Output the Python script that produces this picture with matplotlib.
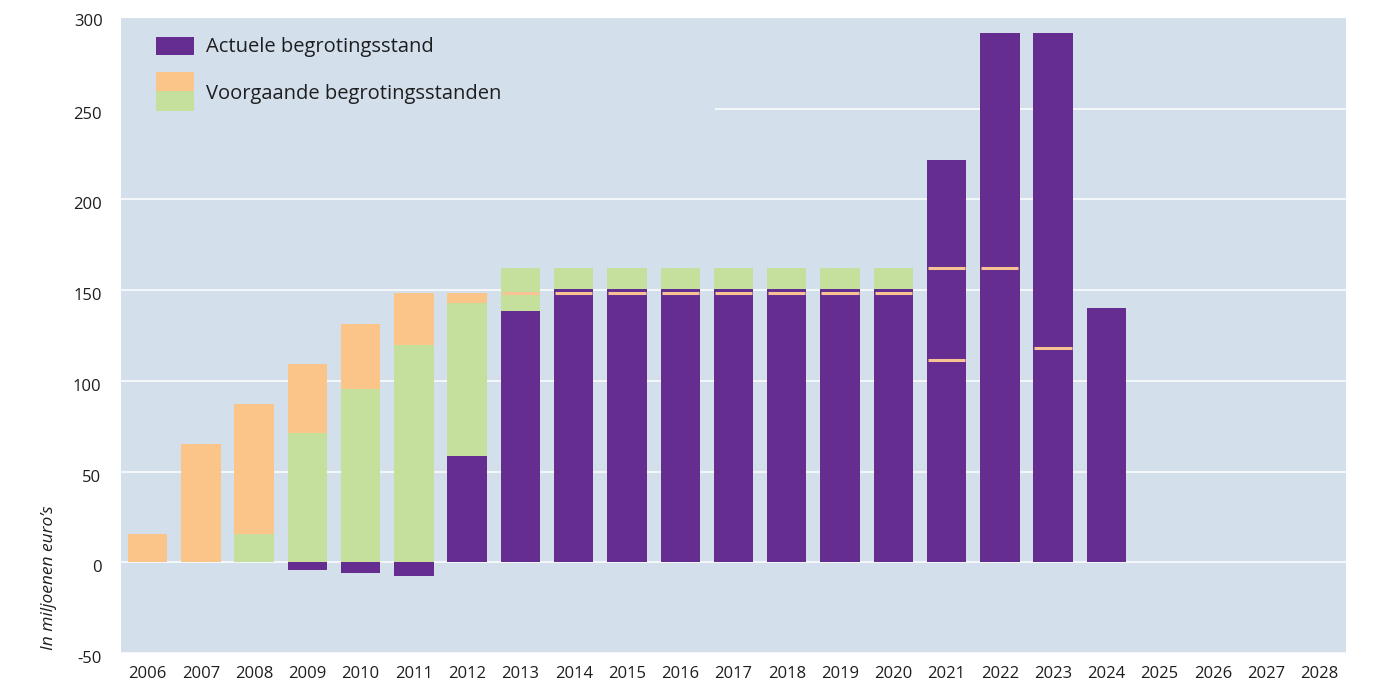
import matplotlib
matplotlib.use("Agg")
import matplotlib.pyplot as plt
import matplotlib.transforms as mtransforms
from matplotlib.patches import Rectangle
import numpy as np

plt.rcParams['font.family'] = ['Open Sans', 'DejaVu Sans']

# ---------------- data ----------------
years = [str(y) for y in range(2006, 2029)]
# current budget level (purple)
actual = [0, 0, 0, -4, -6, -7.7, 58.5, 138.5, 150.5, 150.5, 150.5, 150.5, 150.5,
          150.5, 150.5, 222, 292, 292, 140.2, 0, 0, 0, 0]
# previous budget levels (cumulative tops), green then orange
green_top = [np.nan, np.nan, 15.5, 71.2, 95.5, 119.8, 143, 162.3, 162.3, 162.3,
             162.3, 162.3, 162.3, 162.3, 162.3, np.nan, np.nan, np.nan, np.nan,
             np.nan, np.nan, np.nan, np.nan]
orange_top = [15.5, 65, 87.2, 109.3, 131.3, 148.5, 148.5, np.nan, np.nan, np.nan,
              np.nan, np.nan, np.nan, np.nan, np.nan, np.nan, np.nan, np.nan,
              np.nan, np.nan, np.nan, np.nan, np.nan]
# earlier budget levels shown as thin marker lines
line_years = ['2013', '2014', '2015', '2016', '2017', '2018', '2019', '2020',
              '2021', '2021', '2022', '2023']
line_values = [148.3, 148.3, 148.3, 148.3, 148.3, 148.3, 148.3, 148.3,
               162.4, 111.3, 162.4, 118.3]
yticks = [-50, 0, 50, 100, 150, 200, 250, 300]
legend_labels = ['Actuele begrotingsstand', 'Voorgaande begrotingsstanden']

# ---------------- style ----------------
PURPLE = '#652d8f'
ORANGE = '#fbc589'
GREEN = '#c5df9d'
LINEC = '#f8c394'
BG = '#d3e0eb'
TXT = '#1e1e1e'
W = 0.74

fig = plt.figure(figsize=(13.79, 6.84), dpi=100)
ax = fig.add_axes([121/1379, 1 - 653/684, 1225/1379, 635/684])
ax.set_facecolor(BG)

x = np.arange(len(years))
act = np.array(actual, dtype=float)
g = np.array(green_top, dtype=float)
o = np.array(orange_top, dtype=float)

base = np.maximum(act, 0)
# purple
ax.bar(x, act, width=W, color=PURPLE, zorder=2, linewidth=0)
# green
gmask = ~np.isnan(g)
ax.bar(x[gmask], g[gmask] - base[gmask], bottom=base[gmask], width=W,
       color=GREEN, zorder=2, linewidth=0)
# orange
omask = ~np.isnan(o)
obase = np.where(np.isnan(g), base, g)
ax.bar(x[omask], o[omask] - obase[omask], bottom=obase[omask], width=W,
       color=ORANGE, zorder=2, linewidth=0)
# marker lines
lx = np.array([years.index(y) for y in line_years], dtype=float)
ax.hlines(line_values, lx - W/2 + 0.02, lx + W/2 - 0.02, colors=LINEC,
          linewidth=2.2, zorder=3)

ax.set_xlim(-0.5, len(years) - 0.5)
ax.set_ylim(-50, 300)
ax.set_yticks(yticks[:-1])
ax.set_yticklabels([str(v) for v in yticks[:-1]])
ax.set_xticks(x)
ax.set_xticklabels(years)
ax.grid(axis='y', color='white', linewidth=1.1, zorder=0.5)
ax.set_axisbelow(True)
for s in ax.spines.values():
    s.set_visible(False)
ax.tick_params(axis='both', length=0, labelsize=12, colors=TXT)
ax.tick_params(axis='y', pad=14)
ax.tick_params(axis='x', pad=9)
off = mtransforms.ScaledTranslation(0, -4/100, fig.dpi_scale_trans)
for lab in ax.get_yticklabels():
    lab.set_transform(lab.get_transform() + off)
# top tick label (300) without a grid line at the top edge
ax.text(-18/1225, 1, str(yticks[-1]), transform=ax.transAxes + off, fontsize=12,
        color=TXT, ha='right', va='center')

ax.set_ylabel("In miljoenen euro\u2019s", fontsize=12.5, style='italic', color=TXT)
ax.yaxis.set_label_coords(-64/1225, (653 - 578)/635)

# legend drawn in axes coordinates
def ax_x(px):
    return (px - 121) / 1225

def ax_y(py):
    return (653 - py) / 635

ax.add_patch(Rectangle((0, ax_y(118)), ax_x(715), 1 - ax_y(118),
                       transform=ax.transAxes, facecolor=BG, edgecolor='none', zorder=1))
ax.add_patch(Rectangle((ax_x(156), ax_y(55)), ax_x(194) - ax_x(156), ax_y(37) - ax_y(55),
                       transform=ax.transAxes, facecolor=PURPLE, edgecolor='none', zorder=4))
ax.add_patch(Rectangle((ax_x(156), ax_y(91)), ax_x(194) - ax_x(156), ax_y(72) - ax_y(91),
                       transform=ax.transAxes, facecolor=ORANGE, edgecolor='none', zorder=4))
ax.add_patch(Rectangle((ax_x(156), ax_y(111)), ax_x(194) - ax_x(156), ax_y(91) - ax_y(111),
                       transform=ax.transAxes, facecolor=GREEN, edgecolor='none', zorder=4))
ax.text(ax_x(206), ax_y(47), legend_labels[0], transform=ax.transAxes, fontsize=14.5,
        color=TXT, va='center', ha='left', zorder=4)
ax.text(ax_x(206), ax_y(94), legend_labels[1], transform=ax.transAxes, fontsize=14.5,
        color=TXT, va='center', ha='left', zorder=4)

fig.savefig('out.png', dpi=100, facecolor='white')
